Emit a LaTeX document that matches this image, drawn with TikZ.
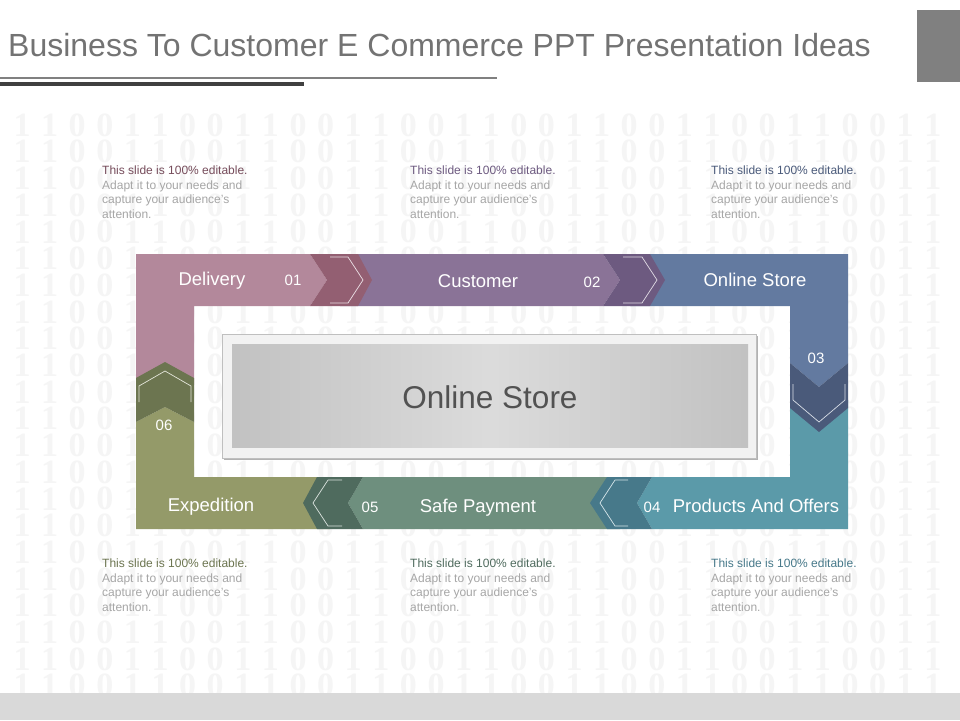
\documentclass[tikz,border=0pt]{standalone}
\usepackage{fontspec}
\setmainfont{Liberation Sans}
\newfontfamily\binfont{Liberation Serif}
\usetikzlibrary{positioning}
\definecolor{mauveL}{HTML}{B3889B}
\definecolor{mauveD}{HTML}{935F72}
\definecolor{purpleL}{HTML}{8A7397}
\definecolor{purpleD}{HTML}{6D5A80}
\definecolor{blueL}{HTML}{637AA0}
\definecolor{blueD}{HTML}{4A5A7A}
\definecolor{tealL}{HTML}{5B9AA9}
\definecolor{tealD}{HTML}{47798A}
\definecolor{greenL}{HTML}{6E8F7E}
\definecolor{greenD}{HTML}{4F6B5E}
\definecolor{oliveL}{HTML}{949A69}
\definecolor{oliveD}{HTML}{6C7550}
\definecolor{titleGray}{HTML}{737373}
\tikzset{bindigit/.style={text=black!4, font=\binfont\bfseries\fontsize{34}{36}\selectfont, inner sep=0pt}}
\tikzset{segLabel/.style={text=white, anchor=base, inner sep=0pt, font=\fontsize{18.5}{20}\selectfont}}
\tikzset{segNum/.style={text=white, anchor=base, inner sep=0pt, font=\fontsize{15}{17}\selectfont}}
\tikzset{chevLine/.style={line width=0.7pt}}
\tikzset{noteText/.style={anchor=north west, align=left, inner sep=0pt, text=black!35, font=\fontsize{12}{14.5}\selectfont}}
\newcommand{\notetext}[1]{{\color{#1}This slide is 100\% editable.}\\Adapt it to your needs and\\capture your audience's\\attention.}
\begin{document}
\begin{tikzpicture}[x=1pt, y=-1pt]
\useasboundingbox (0,0) rectangle (960,720);
\fill[white] (0,0) rectangle (960,720);

% binary background
\foreach \r in {0,...,21}{
  \foreach \c in {0,...,33}{
    \pgfmathtruncatemacro\bit{ifthenelse(mod(\c,4)<2,1,0)}
    \node[bindigit] (bin\r-\c) at ({22+27.6*\c},{125+26.7*\r}) {\bit};
  }
}
\fill[black!15] (0,693) rectangle (960,720);

% title
\node[anchor=base west, inner sep=0pt, text=titleGray, font=\fontsize{32}{34}\selectfont] (title) at (8,56) {Business To Customer E Commerce PPT Presentation Ideas};
\fill[black!50] (917,10) rectangle (960,82);
\fill[black!50] (0,77) rectangle (497,79);
\fill[black!75] (0,82) rectangle (304,86);

% segments
\fill[mauveL] (136,254) -- (310,254) -- (327,280) -- (310,306) -- (194,306) -- (194,385) -- (136,385) -- cycle;
\fill[purpleL] (340,254) -- (603,254) -- (620,280) -- (603,306) -- (340,306) -- cycle;
\fill[blueL] (630,254) -- (848,254) -- (848,363) -- (819,387) -- (790,363) -- (790,306) -- (630,306) -- cycle;
\fill[tealL] (790,400) -- (848,400) -- (848,529) -- (652,529) -- (637,503) -- (652,477) -- (790,477) -- cycle;
\fill[greenL] (620,477) -- (620,529) -- (363,529) -- (348,503) -- (363,477) -- cycle;
\fill[oliveL] (330,477) -- (330,529) -- (136,529) -- (136,422) -- (165,407) -- (194,422) -- (194,477) -- cycle;

% dark chevrons
\fill[mauveD] (310,254) -- (358,254) -- (372,280) -- (358,306) -- (310,306) -- (327,280) -- cycle;
\draw[chevLine, white!75!mauveL] (330,257) -- (348,257) -- (363,280) -- (348,303) -- (330,303);
\fill[purpleD] (603,254) -- (650,254) -- (665,280) -- (650,306) -- (603,306) -- (620,280) -- cycle;
\draw[chevLine, white!75!purpleL] (623,257) -- (642,257) -- (657,280) -- (642,303) -- (623,303);
\fill[blueD] (790,363) -- (819,387) -- (848,363) -- (848,408) -- (819,432) -- (790,408) -- cycle;
\draw[chevLine, white!75!blueL] (793,384) -- (793,400) -- (819,422) -- (845,400) -- (845,384);
\fill[tealD] (590,503) -- (607,477) -- (652,477) -- (637,503) -- (652,529) -- (607,529) -- cycle;
\draw[chevLine, white!75!tealL] (628,480) -- (615,480) -- (600,503) -- (615,526) -- (628,526);
\fill[greenD] (303,503) -- (317,477) -- (363,477) -- (348,503) -- (363,529) -- (317,529) -- cycle;
\draw[chevLine, white!75!greenL] (342,480) -- (328,480) -- (313,503) -- (328,526) -- (342,526);
\fill[oliveD] (136,378) -- (165,362) -- (194,378) -- (194,422) -- (165,407) -- (136,422) -- cycle;
\draw[chevLine, white!75!oliveL] (139,402) -- (139,386) -- (165,371) -- (191,386) -- (191,402);

% labels
\node[segLabel] (delivery) at (212,285) {Delivery};
\node[segNum] (n1) at (293,285) {01};
\node[segLabel] (customer) at (478,287) {Customer};
\node[segNum] (n2) at (592,287) {02};
\node[segLabel] (online) at (755,286) {Online Store};
\node[segNum] (n3) at (816,363) {03};
\node[segNum] (n4) at (652,512) {04};
\node[segLabel] (products) at (756,512) {Products And Offers};
\node[segNum] (n5) at (370,512) {05};
\node[segLabel] (payment) at (478,512) {Safe Payment};
\node[segLabel] (expedition) at (211,511) {Expedition};
\node[segNum] (n6) at (164,430) {06};

% center box
\fill[black!30] (224,336) rectangle (758,460);
\filldraw[fill=black!5, draw=black!25] (222,334) rectangle (756,458);
\shade[left color=black!24, right color=black!24, middle color=black!14] (232,344) rectangle (748,447);
\node[text=black!68, font=\fontsize{31.5}{33}\selectfont] (centre) at (490,397) {Online Store};

% notes
\node[noteText] (note1) at (102,166) {\notetext{mauveD!80!black}};
\node[noteText] (note2) at (410,166) {\notetext{purpleD}};
\node[noteText] (note3) at (711,166) {\notetext{blueD}};
\node[noteText] (note4) at (102,559) {\notetext{oliveD}};
\node[noteText] (note5) at (410,559) {\notetext{greenD}};
\node[noteText] (note6) at (711,559) {\notetext{tealD}};
\end{tikzpicture}
\end{document}
